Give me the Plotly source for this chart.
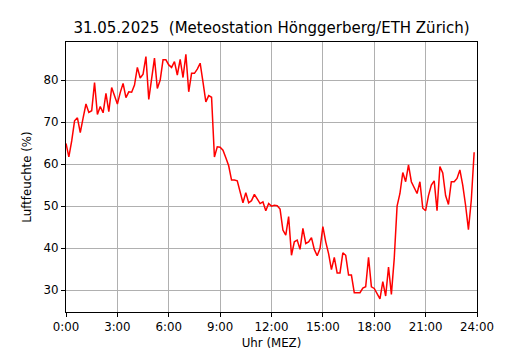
import plotly.graph_objects as go

# 10-minute readings, 0:00 .. 23:50 (hours)
hours = [i / 6 for i in range(144)]
humidity = [
    64.9, 61.7, 65.5, 70.3, 71.0, 67.5, 71.0, 74.3, 72.3, 72.7,
    79.4, 71.8, 73.7, 72.2, 76.8, 72.5, 78.2, 76.0, 74.3, 77.0,
    79.2, 75.8, 77.2, 77.1, 78.8, 83.0, 80.5, 81.4, 85.6, 75.4,
    80.5, 85.2, 78.0, 80.0, 84.8, 84.8, 83.6, 83.0, 84.4, 81.2,
    84.9, 80.6, 86.1, 77.2, 81.6, 81.6, 82.6, 84.0, 79.5, 74.8,
    76.3, 75.9, 61.7, 64.1, 64.0, 63.3, 61.5, 59.6, 56.2, 56.2,
    56.0, 53.0, 50.8, 53.2, 50.8, 51.3, 52.8, 51.7, 50.6, 51.0,
    48.9, 50.6, 50.0, 50.2, 50.1, 49.3, 44.3, 43.1, 47.5, 38.3,
    41.5, 41.9, 39.7, 44.7, 41.1, 41.5, 42.5, 39.7, 38.2, 39.9,
    45.1, 41.5, 38.7, 34.9, 37.8, 34.1, 34.1, 38.9, 38.3, 33.6,
    33.6, 29.4, 29.4, 29.4, 30.5, 30.8, 37.8, 30.8, 30.4, 29.3,
    27.9, 32.0, 28.6, 35.5, 29.0, 37.5, 50.0, 53.0, 58.0, 55.8,
    59.8, 55.8, 54.5, 53.0, 55.8, 49.5, 48.9, 52.5, 55.0, 56.0,
    48.9, 59.4, 57.9, 52.5, 50.4, 55.8, 55.8, 56.6, 58.6, 55.0,
    50.2, 44.4, 51.4, 62.8,
]

x_tick_vals = [0, 3, 6, 9, 12, 15, 18, 21, 24]
x_tick_text = ["0:00", "3:00", "6:00", "9:00", "12:00", "15:00", "18:00", "21:00", "24:00"]
y_tick_vals = [30, 40, 50, 60, 70, 80]

title_text = "31.05.2025  (Meteostation Hönggerberg/ETH Zürich)"

# The page body adds an 8px margin, so the figure is made 8px smaller
FIG_W, FIG_H = 522, 342

fig = go.Figure()
fig.add_trace(go.Scatter(
    x=hours, y=humidity, mode="lines",
    line=dict(color="#ff0000", width=1.5),
    showlegend=False,
))

axis_common = dict(
    showline=True, mirror=True, linecolor="black", linewidth=1,
    ticks="outside", ticklen=4, tickcolor="black", tickwidth=1,
    showgrid=True, gridcolor="#b0b0b0", gridwidth=1,
    zeroline=False, automargin=False,
    tickfont=dict(family="DejaVu Sans", size=11.8, color="black"),
)

fig.update_layout(
    width=FIG_W, height=FIG_H,
    margin=dict(l=58, r=53, t=34, b=38),
    paper_bgcolor="white", plot_bgcolor="white",
    font=dict(family="DejaVu Sans", color="black"),
    title=dict(text=title_text, x=0.5, xref="paper", y=1 - 20 / FIG_H,
               yref="container", yanchor="middle", xanchor="center",
               automargin=False,
               font=dict(family="DejaVu Sans", size=15, color="black")),
    xaxis=dict(range=[0, 24], tickvals=x_tick_vals, ticktext=x_tick_text,
               title=dict(text="Uhr (MEZ)", standoff=8,
                          font=dict(family="DejaVu Sans", size=11.8)),
               **axis_common),
    yaxis=dict(range=[24.8, 89.05], tickvals=y_tick_vals,
               title=dict(text="Luftfeuchte (%)", standoff=9,
                          font=dict(family="DejaVu Sans", size=11.8)),
               **axis_common),
)

fig.write_html("out.html")
